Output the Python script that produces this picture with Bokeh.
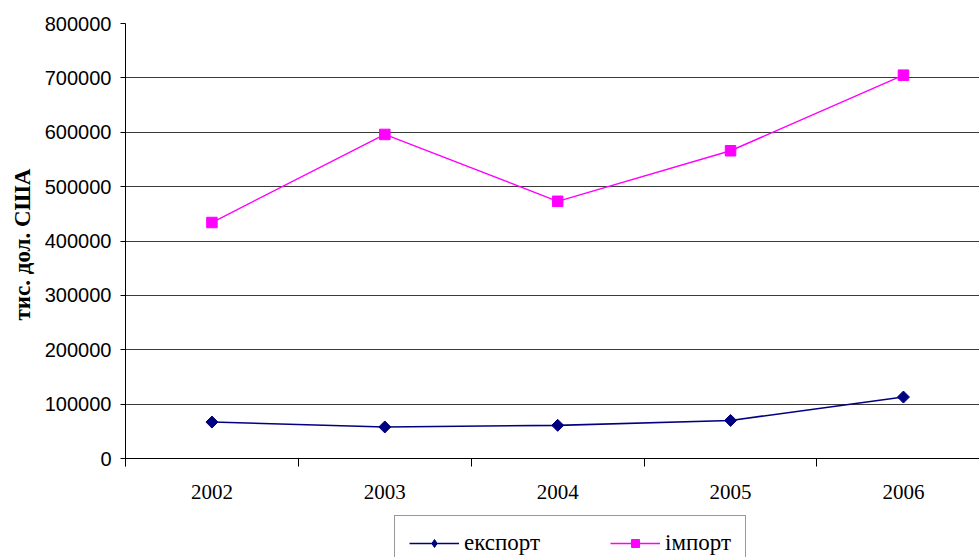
import math
from bokeh.plotting import figure
from bokeh.models import Range1d, FixedTicker, Legend, LegendItem, BasicTickFormatter, Title
from bokeh.embed import file_html
from bokeh.resources import INLINE

years = ["2002", "2003", "2004", "2005", "2006"]
export_vals = [67000, 58000, 61000, 70000, 113000]
import_vals = [434000, 596000, 473000, 566000, 705000]
y_ticks = [0, 100000, 200000, 300000, 400000, 500000, 600000, 700000, 800000]
y_axis_title = "тис. дол. США"
export_name = "експорт"
import_name = "імпорт"

xs = list(range(1, len(years) + 1))

EXP_COLOR = "#000080"
IMP_COLOR = "#FF00FF"
SERIF = "Liberation Serif"
SANS = "Liberation Sans"

# frame: top 23px, bottom at page bottom; value 0 sits 99px above the frame bottom
W, H = 979, 557
TOP, LEFT = 23, 122
ZERO_PX_FROM_BOTTOM = 99
y_max = y_ticks[-1]
frame_h = H - TOP
y_min = -y_max * ZERO_PX_FROM_BOTTOM / (frame_h - ZERO_PX_FROM_BOTTOM)

p = figure(width=W, height=H, output_backend="svg", toolbar_location=None,
           x_range=Range1d(0.5, 5.44), y_range=Range1d(y_min, y_max),
           min_border_left=LEFT, min_border_right=0, min_border_top=TOP, min_border_bottom=0)
p.outline_line_color = None
p.background_fill_color = "white"

p.xaxis.fixed_location = 0
p.xaxis.ticker = FixedTicker(ticks=xs, minor_ticks=[x - 0.5 for x in xs] + [xs[-1] + 0.5])
p.xaxis.major_label_overrides = {x: y for x, y in zip(xs, years)}
p.xaxis.major_tick_out = 0
p.xaxis.major_tick_in = 0
p.xaxis.minor_tick_out = 8
p.xaxis.minor_tick_in = 0
p.xaxis.minor_tick_line_color = "black"
p.xaxis.axis_line_color = "black"
p.xaxis.major_label_text_font = SERIF
p.xaxis.major_label_text_font_size = "21px"
p.xaxis.major_label_text_color = "black"
p.xaxis.major_label_standoff = 18

p.yaxis.bounds = (-15000, y_max)
p.yaxis.ticker = FixedTicker(ticks=y_ticks, minor_ticks=[])
p.yaxis.formatter = BasicTickFormatter(use_scientific=False)
p.yaxis.major_tick_out = 5
p.yaxis.major_tick_in = 0
p.yaxis.major_tick_line_color = "black"
p.yaxis.axis_line_color = "black"
p.yaxis.major_label_text_font = SANS
p.yaxis.major_label_text_font_size = "20px"
p.yaxis.major_label_text_color = "black"
p.yaxis.major_label_standoff = 9

# y axis title, placed along the 0..800000 part of the axis
ytitle = Title(text=y_axis_title, align="left", offset=237, standoff=14,
               text_font=SERIF, text_font_style="bold", text_font_size="23px",
               text_color="black")
p.add_layout(ytitle, "left")

p.xgrid.grid_line_color = None
p.ygrid.grid_line_color = "#3a3a3a"
p.ygrid.grid_line_width = 1
p.ygrid.ticker = FixedTicker(ticks=y_ticks)

el = p.line(xs, export_vals, line_color=EXP_COLOR, line_width=1.6)
em = p.scatter(xs, export_vals, marker="square", angle=math.pi / 4, size=8.5,
               fill_color=EXP_COLOR, line_color=EXP_COLOR)
il = p.line(xs, import_vals, line_color=IMP_COLOR, line_width=1.4)
im = p.scatter(xs, import_vals, marker="square", size=10.5,
               fill_color=IMP_COLOR, line_color=IMP_COLOR)

# legend glyph stand-ins (diamond marker for the legend key), drawn off-range
lg_em = p.scatter(xs, [y_min * 10] * len(xs), marker="diamond", size=12,
                  fill_color=EXP_COLOR, line_color=EXP_COLOR)
lg_im = p.scatter(xs, [y_min * 10] * len(xs), marker="square", size=9.5,
                  fill_color=IMP_COLOR, line_color=IMP_COLOR)

legend = Legend(items=[LegendItem(label=export_name, renderers=[el, lg_em]),
                       LegendItem(label=import_name, renderers=[il, lg_im])],
                location=(269, -14), orientation="horizontal")
legend.padding = 14
legend.margin = 0
legend.spacing = 70
legend.glyph_width = 50
legend.glyph_height = 20
legend.label_standoff = 5
legend.label_text_font = SERIF
legend.label_text_font_size = "23px"
legend.label_text_color = "black"
legend.border_line_color = "#333333"
legend.border_line_width = 1
legend.background_fill_color = "white"
legend.background_fill_alpha = 1
p.add_layout(legend, "center")

open("out.html", "w").write(file_html(p, INLINE))
